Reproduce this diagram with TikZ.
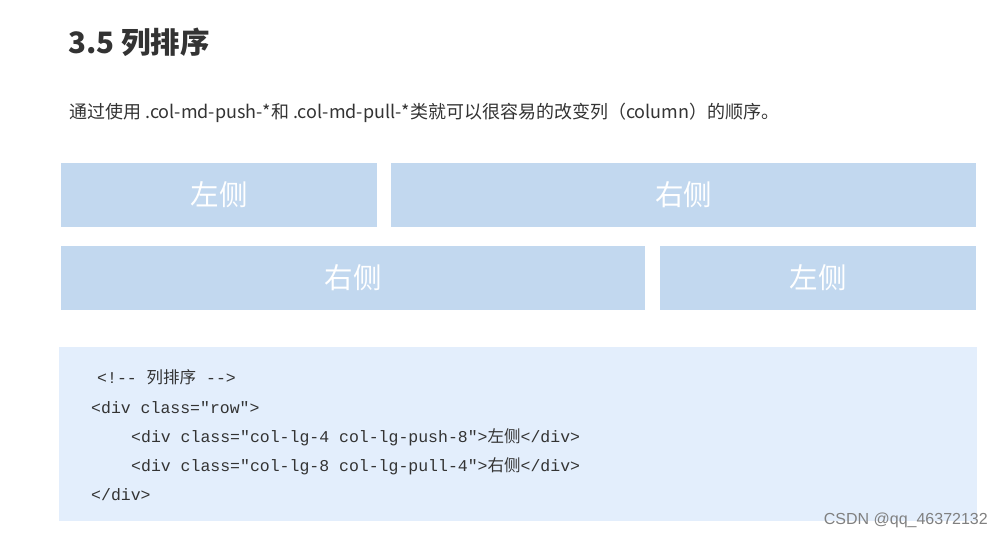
\documentclass[tikz,border=0pt]{standalone}
\usepackage{fontspec}
\setmainfont{Noto Sans CJK SC}
\setmonofont{Liberation Mono}
\newfontfamily\cjk{Noto Sans CJK SC}
\newfontfamily\wmfont{Liberation Sans}

\definecolor{boxblue}{HTML}{C2D8EF}
\definecolor{codebg}{HTML}{E3EEFC}
\definecolor{textgray}{HTML}{333333}

\begin{document}
\begin{tikzpicture}[x=1pt,y=-1pt,
  colbox/.style={fill=boxblue, inner sep=0pt, minimum height=64, text=white, font=\fontsize{28.5}{28.5}\selectfont},
  codeline/.style={anchor=base west, inner sep=0pt, text=textgray, font=\ttfamily\fontsize{16.5}{17}\selectfont}]
\useasboundingbox[fill=white] (0,0) rectangle (1004,536);

% title and intro
\node[anchor=base west, inner sep=0pt, text=textgray, font=\bfseries\fontsize{29.5}{29.5}\selectfont] (title) at (68,53) {3.5 列排序};
\node[anchor=base west, inner sep=0pt, text=textgray, font=\fontsize{18}{18}\selectfont] (intro) at (69,118)
  {通过使用 .col-md-push-*和 .col-md-pull-*类就可以很容易的改变列（column）的顺序。};

% columns
\node[colbox, minimum width=316] (leftA) at (219,195) {左侧};
\node[colbox, minimum width=585] (rightA) at (683.5,195) {右侧};
\node[colbox, minimum width=584] (rightB) at (353,278) {右侧};
\node[colbox, minimum width=316] (leftB) at (818,278) {左侧};

% code block
\node[fill=codebg, inner sep=0pt, minimum width=918, minimum height=174] (code) at (518,434) {};
\node[codeline] (c1) at (97,383) {<!-- {\cjk 列排序} -->};
\node[codeline] (c2) at (91,413) {<div class="row">};
\node[codeline] (c3) at (131,442) {<div class="col-lg-4 col-lg-push-8">{\cjk 左侧}</div>};
\node[codeline] (c4) at (131,471) {<div class="col-lg-8 col-lg-pull-4">{\cjk 右侧}</div>};
\node[codeline] (c5) at (91,500) {</div>};

\node[anchor=base east, inner sep=0pt, text=gray, font=\wmfont\fontsize{16}{16}\selectfont] (mark) at (988,524) {CSDN @qq\_46372132};

\end{tikzpicture}
\end{document}
